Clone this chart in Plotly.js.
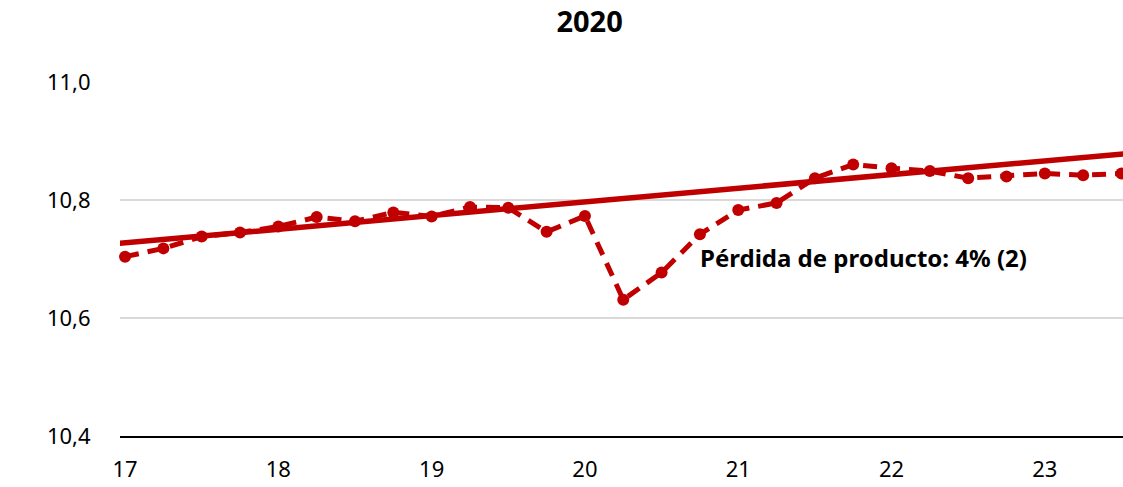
<!DOCTYPE html>
<html>
<head>
<meta charset="utf-8">
<script src="https://cdn.plot.ly/plotly-3.0.1.min.js"></script>
<style>html,body{margin:0;padding:0;background:#fff;}#chart{width:1123px;height:487px;}</style>
</head>
<body>
<div id="chart"></div>
<script>
// Quarterly observations (year index: 17 = 2017 ... 23.5 = 2023 Q3)
var quarters = [17, 17.25, 17.5, 17.75, 18, 18.25, 18.5, 18.75, 19, 19.25, 19.5, 19.75,
                20, 20.25, 20.5, 20.75, 21, 21.25, 21.5, 21.75, 22, 22.25, 22.5, 22.75,
                23, 23.25, 23.5];
var actual = [10.704, 10.718, 10.738, 10.745, 10.755, 10.771, 10.764, 10.779, 10.772, 10.788, 10.787, 10.746,
              10.773, 10.631, 10.677, 10.742, 10.783, 10.795, 10.837, 10.860, 10.854, 10.849, 10.837, 10.840,
              10.845, 10.842, 10.845];
// Pre-pandemic trend line endpoints
var trendX = [16.9, 23.6];
var trendY = [10.7250, 10.8801];
var yearTicks = [17, 18, 19, 20, 21, 22, 23];
var yearLabels = ['17', '18', '19', '20', '21', '22', '23'];
var titleText = '2020';
var noteText = 'Pérdida de producto: 4% (2)';
var red = '#C00000';

var traces = [
  {
    x: trendX, y: trendY, type: 'scatter', mode: 'lines',
    line: {color: red, width: 5.5}, hoverinfo: 'skip', showlegend: false
  },
  {
    x: quarters, y: actual, type: 'scatter', mode: 'lines+markers',
    line: {color: red, width: 5, dash: '14px,9px'},
    marker: {color: red, size: 12}, showlegend: false, cliponaxis: false
  }
];

var font = 'Noto Sans, Liberation Sans, sans-serif';
var layout = {
  width: 1123, height: 487,
  margin: {l: 120, r: 0, t: 82, b: 51},
  paper_bgcolor: '#ffffff', plot_bgcolor: '#ffffff',
  separators: ',.',
  font: {family: font, color: '#000000', size: 22},
  title: {text: '<b>' + titleText + '</b>', font: {family: font, size: 29, color: '#000000'},
          x: 0.525, xanchor: 'center', y: 0.955, yanchor: 'middle'},
  xaxis: {
    range: [16.967, 23.51], tickmode: 'array', tickvals: yearTicks, ticktext: yearLabels,
    showgrid: false, zeroline: false, showline: true, linecolor: '#000000', linewidth: 2,
    ticks: 'outside', ticklen: 13, tickcolor: 'rgba(0,0,0,0)',
    tickfont: {family: font, size: 22, color: '#000000'}
  },
  yaxis: {
    range: [10.4, 11.0], tickmode: 'array', tickvals: [10.4, 10.6, 10.8, 11.0],
    tickformat: '.1f', showgrid: true, gridcolor: '#d9d9d9', gridwidth: 1.5,
    zeroline: false, showline: false,
    ticks: 'outside', ticklen: 24, tickcolor: 'rgba(0,0,0,0)',
    tickfont: {family: font, size: 22, color: '#000000'}
  },
  annotations: [{
    x: 20.735, y: 10.703, xref: 'x', yref: 'y', text: '<b>' + noteText + '</b>',
    showarrow: false, xanchor: 'left', yanchor: 'middle',
    font: {family: font, size: 24, color: '#000000'}
  }]
};

Plotly.newPlot('chart', traces, layout, {staticPlot: true, displayModeBar: false});
</script>
</body>
</html>
